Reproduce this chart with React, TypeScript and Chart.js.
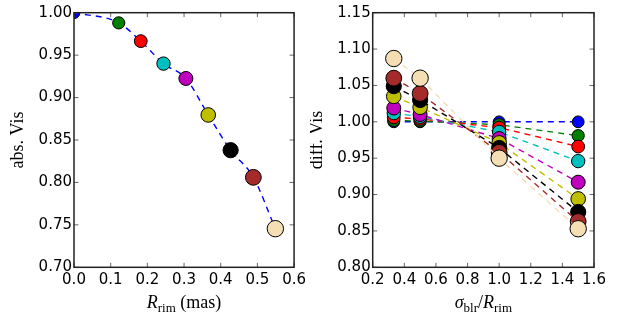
import React, { useEffect, useRef } from 'react';
import { Chart, registerables } from 'chart.js';

Chart.register(...registerables);

// ---------- data ----------
const seriesColors = ['#0000ff', '#008000', '#ff0000', '#00bfbf', '#bf00bf', '#bfbf00', '#000000', '#a52a2a', '#f5deb3'];
const markerRadii = [5.9, 6.1, 6.4, 6.7, 7.0, 7.3, 7.6, 7.9, 8.2];

// left panel: absolute visibility vs rim radius
const rimRadius = [0.0, 0.122, 0.182, 0.244, 0.305, 0.366, 0.427, 0.489, 0.549];
const absVis = [1.0, 0.988, 0.9665, 0.94, 0.9225, 0.8795, 0.838, 0.806, 0.7455];

// right panel: differential visibility vs sigma_blr / R_rim
const sigmaRatio = [1 / 3, 0.5, 1.0, 1.5];
const diffVisBlue = [1.0, 1.0, 1.0, 1.0];
const diffVisGreen = [1.002, 1.001, 0.996, 0.981];
const diffVisRed = [1.006, 1.004, 0.992, 0.966];
const diffVisCyan = [1.012, 1.007, 0.986, 0.946];
const diffVisMagenta = [1.019, 1.01, 0.977, 0.917];
const diffVisYellow = [1.035, 1.02, 0.971, 0.894];
const diffVisBlack = [1.049, 1.03, 0.964, 0.876];
const diffVisBrown = [1.06, 1.039, 0.958, 0.863];
const diffVisWheat = [1.087, 1.06, 0.95, 0.853];
const diffVisSeries = [diffVisBlue, diffVisGreen, diffVisRed, diffVisCyan, diffVisMagenta, diffVisYellow, diffVisBlack, diffVisBrown, diffVisWheat];

// axes ranges / ticks
const leftXRange = [0, 0.6, 0.1];
const leftYRange = [0.7, 1.0, 0.05];
const rightXRange = [0.2, 1.6, 0.2];
const rightYRange = [0.8, 1.15, 0.05];

// ---------- drawing helpers ----------
type Seg = { t: string; italic?: boolean; sub?: boolean };
const SERIF = '"Liberation Serif", "DejaVu Serif", serif';
const MAIN_SIZE = 18;
const SUB_SIZE = 13;
const TICK_FONT = { family: '"DejaVu Sans", sans-serif', size: 15 };

function drawRich(ctx: CanvasRenderingContext2D, segs: Seg[], cx: number, baseline: number) {
  const fontOf = (s: Seg) => `${s.italic ? 'italic ' : ''}${s.sub ? SUB_SIZE : MAIN_SIZE}px ${SERIF}`;
  let total = 0;
  const widths = segs.map((s) => {
    ctx.font = fontOf(s);
    const w = ctx.measureText(s.t).width;
    total += w;
    return w;
  });
  let x = cx - total / 2;
  ctx.textAlign = 'left';
  ctx.textBaseline = 'alphabetic';
  ctx.fillStyle = '#000';
  segs.forEach((s, i) => {
    ctx.font = fontOf(s);
    ctx.fillText(s.t, x, baseline + (s.sub ? 3.5 : 0));
    x += widths[i];
  });
}

function decorPlugin(xTitle: Seg[], yTitle: string) {
  return {
    id: 'decor',
    afterDatasetsDraw(chart: any) {
      const { ctx, chartArea: a, scales } = chart;
      const L = 4.5;
      ctx.save();
      ctx.strokeStyle = '#666';
      ctx.lineWidth = 1;
      ctx.beginPath();
      scales.x.ticks.forEach((t: any) => {
        const p = scales.x.getPixelForValue(t.value);
        ctx.moveTo(p, a.bottom);
        ctx.lineTo(p, a.bottom - L);
        ctx.moveTo(p, a.top);
        ctx.lineTo(p, a.top + L);
      });
      scales.y.ticks.forEach((t: any) => {
        const p = scales.y.getPixelForValue(t.value);
        ctx.moveTo(a.left, p);
        ctx.lineTo(a.left + L, p);
        ctx.moveTo(a.right, p);
        ctx.lineTo(a.right - L, p);
      });
      ctx.stroke();
      ctx.strokeStyle = '#222';
      ctx.lineWidth = 1.5;
      ctx.strokeRect(a.left, a.top, a.right - a.left, a.bottom - a.top);
      ctx.restore();
    },
    afterDraw(chart: any) {
      const { ctx, chartArea: a } = chart;
      ctx.save();
      drawRich(ctx, xTitle, (a.left + a.right) / 2, 308);
      ctx.translate(a.left - 50.7, (a.top + a.bottom) / 2);
      ctx.rotate(-Math.PI / 2);
      ctx.font = `${MAIN_SIZE}px ${SERIF}`;
      ctx.textAlign = 'center';
      ctx.textBaseline = 'alphabetic';
      ctx.fillStyle = '#000';
      ctx.fillText(yTitle, 0, 0);
      ctx.restore();
    },
  };
}

function scalesCfg(xr: number[], yr: number[], xDec: number, yDec: number, yWidth: number) {
  return {
    x: {
      type: 'linear',
      min: xr[0],
      max: xr[1],
      grid: { display: false, drawTicks: false },
      border: { display: false },
      ticks: { stepSize: xr[2], font: TICK_FONT, color: '#000', padding: 4, maxRotation: 0, callback: (v: any) => Number(v).toFixed(xDec) },
      afterFit: (s: any) => { s.height = 319 - 267.3; },
    },
    y: {
      type: 'linear',
      min: yr[0],
      max: yr[1],
      grid: { display: false, drawTicks: false },
      border: { display: false },
      ticks: { stepSize: yr[2], font: TICK_FONT, color: '#000', padding: 2, callback: (v: any) => Number(v).toFixed(yDec) },
      afterFit: (s: any) => { s.width = yWidth; },
    },
  };
}

function LeftPanel() {
  const ref = useRef<HTMLCanvasElement>(null);
  useEffect(() => {
    const pts = rimRadius.map((x, i) => ({ x, y: absVis[i] }));
    const chart = new Chart(ref.current as HTMLCanvasElement, {
      type: 'line',
      data: {
        datasets: [
          {
            data: pts,
            showLine: false,
            pointRadius: markerRadii,
            pointBackgroundColor: seriesColors,
            pointBorderColor: '#000',
            pointBorderWidth: 1,
            order: 0,
          } as any,
          {
            data: pts,
            showLine: true,
            borderColor: '#0000ff',
            borderWidth: 1.4,
            borderDash: [6, 5],
            pointRadius: 0,
            cubicInterpolationMode: 'monotone',
            order: 1,
          } as any,
        ],
      },
      options: {
        animation: false,
        responsive: false,
        events: [],
        layout: { padding: { left: 0, top: 12.7, right: 15, bottom: 0 } },
        plugins: { legend: { display: false }, tooltip: { enabled: false } },
        scales: scalesCfg(leftXRange, leftYRange, 1, 2, 74) as any,
      },
      plugins: [decorPlugin([{ t: 'R', italic: true }, { t: 'rim', sub: true }, { t: ' (mas)' }], 'abs. Vis')],
    });
    return () => chart.destroy();
  }, []);
  return <canvas ref={ref} width={310} height={319} style={{ position: 'absolute', left: 0, top: 0 }} />;
}

function RightPanel() {
  const ref = useRef<HTMLCanvasElement>(null);
  useEffect(() => {
    const datasets = diffVisSeries.map((vals, i) => ({
      data: sigmaRatio.map((x, j) => ({ x, y: vals[j] })),
      showLine: true,
      borderColor: seriesColors[i],
      borderWidth: 1.4,
      borderDash: [6, 5],
      pointRadius: markerRadii[i],
      pointBackgroundColor: seriesColors[i],
      pointBorderColor: '#000',
      pointBorderWidth: 1,
      order: diffVisSeries.length - 1 - i,
    }));
    const chart = new Chart(ref.current as HTMLCanvasElement, {
      type: 'line',
      data: { datasets: datasets as any },
      options: {
        animation: false,
        responsive: false,
        events: [],
        layout: { padding: { left: 0, top: 12.7, right: 25, bottom: 0 } },
        plugins: { legend: { display: false }, tooltip: { enabled: false } },
        scales: scalesCfg(rightXRange, rightYRange, 1, 2, 62.7) as any,
      },
      plugins: [
        decorPlugin(
          [{ t: 'σ', italic: true }, { t: 'blr', sub: true }, { t: '/' }, { t: 'R', italic: true }, { t: 'rim', sub: true }],
          'diff. Vis'
        ),
      ],
    });
    return () => chart.destroy();
  }, []);
  return <canvas ref={ref} width={309} height={319} style={{ position: 'absolute', left: 310, top: 0 }} />;
}

export default function App() {
  return (
    <div style={{ position: 'fixed', left: 0, top: 0, width: 619, height: 319, background: '#fff' }}>
      <LeftPanel />
      <RightPanel />
    </div>
  );
}
